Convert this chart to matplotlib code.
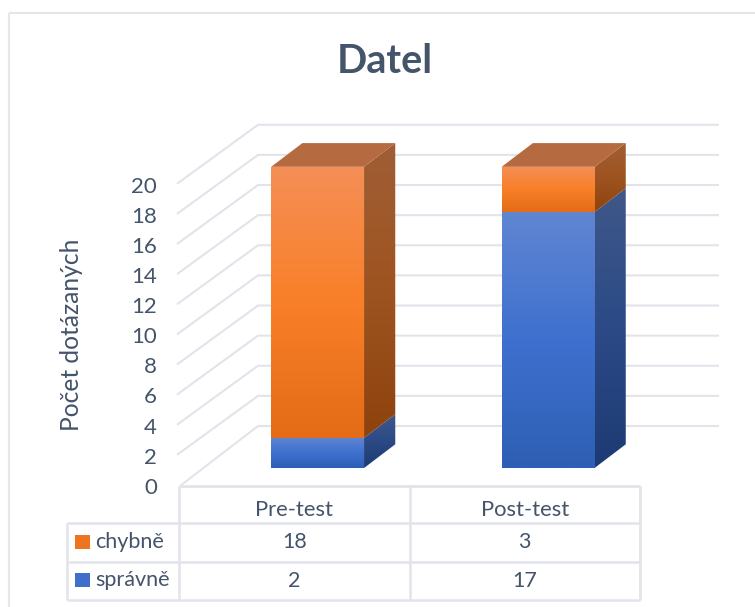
import numpy as np
import matplotlib
matplotlib.use("Agg")
import matplotlib.pyplot as plt
from matplotlib.colors import LinearSegmentedColormap
from matplotlib.patches import Polygon, Rectangle

title = "Datel"
ylabel = "Počet dotázaných"
categories = ["Pre-test", "Post-test"]
series_names = ["chybně", "správně"]
chybne = [18, 3]
spravne = [2, 17]
y_ticks = list(range(0, 21, 2))

FONT = "Lato"
TXT = "#44546A"
GRID = "#E1E4EA"

# simple oblique projection: x in categories, v in values, d in depth (0 front, 1 back)
X0, CAT_W, DX = 179.0, 230.5, 79.0
Y0, V_H, DY = 486.0, 15.06, 60.0
D0, D1 = 0.30, 0.695
BAR_L, BAR_R = 0.297, 0.70


def P(x, v, d):
    return (X0 + x * CAT_W + d * DX, Y0 - v * V_H - d * DY)


fig = plt.figure(figsize=(7.55, 6.07), dpi=100)
ax = fig.add_axes([0, 0, 1, 1])
ax.set_axis_off()


def line(xs, ys, lw=1.5, color=GRID, z=1):
    ax.plot(xs, ys, color=color, lw=lw, solid_capstyle="butt", zorder=z)


def grad_poly(pts, colors, z):
    pts = np.array(pts)
    cmap = LinearSegmentedColormap.from_list("g", colors)
    x0, x1, y0, y1 = pts[:, 0].min(), pts[:, 0].max(), pts[:, 1].min(), pts[:, 1].max()
    img = ax.imshow(np.linspace(0, 1, 256).reshape(-1, 1), cmap=cmap, aspect="auto",
                    extent=(x0, x1, y1, y0), zorder=z, interpolation="bilinear")
    poly = Polygon(pts, closed=True, transform=ax.transData, facecolor="none", edgecolor="none")
    ax.add_patch(poly)
    img.set_clip_path(poly)


# chart frame: only the left and top edges fall inside the picture
line([9, 9], [13, 607], lw=1.5, color="#E3E6EB", z=0)
line([9, 755], [13, 13], lw=1.5, color="#E3E6EB", z=0)

# walls
for v in y_ticks:
    a, b, c = P(0, v, 0), P(0, v, 1), P(2, v, 1)
    if v == 0:
        a = (a[0] + 1, a[1])
    else:
        a = (a[0] - 2, a[1] - 1)
    line([a[0], b[0], c[0]], [a[1], b[1], c[1]])
    ax.text(157, Y0 - v * V_H + 1.8, str(v), ha="right", va="center", fontsize=16,
            color=TXT, family=FONT)

ORANGE_F = ["#F58F57", "#F97F28", "#E46C17"]
ORANGE_S = ["#A05E35", "#9E5420", "#8E430E"]
BLUE_F = ["#6086D2", "#3F70CF", "#2E5FB4"]
BLUE_S = ["#3F5889", "#2B4A86", "#1D3A73"]
TOP_C = "#B66A40"


def bar(i, v0, v1, front, side, z):
    l, r = i + BAR_L, i + BAR_R
    grad_poly([P(l, v0, D0), P(r, v0, D0), P(r, v1, D0), P(l, v1, D0)], front, z + 1)
    grad_poly([P(r, v0, D0), P(r, v0, D1), P(r, v1, D1), P(r, v1, D0)], side, z)


for i in range(len(categories)):
    bar(i, 0, spravne[i], BLUE_F, BLUE_S, 3)
    bar(i, spravne[i], spravne[i] + chybne[i], ORANGE_F, ORANGE_S, 5)
    t = spravne[i] + chybne[i]
    l, r = i + BAR_L, i + BAR_R
    ax.add_patch(Polygon([P(l, t, D0), P(r, t, D0), P(r, t, D1), P(l, t, D1)],
                         closed=True, fc=TOP_C, ec="none", zorder=7))

# data table
T_L, T_M = 67, X0
rows = [Y0, 523, 562, 600]
T_R = X0 + 2 * CAT_W
line([X0, T_R], [rows[0], rows[0]], lw=2)
for y in rows[1:]:
    line([T_L, T_R], [y, y], lw=1.8)
line([T_L, T_L], [rows[1], rows[3]], lw=1.8)
line([X0, X0], [rows[0], rows[3]], lw=1.8)
line([X0 + CAT_W] * 2, [rows[0], rows[3]], lw=1.8)
line([T_R, T_R], [rows[0], rows[3]], lw=2)

for i, c in enumerate(categories):
    xc = X0 + (i + 0.5) * CAT_W
    ax.text(xc, 509.5, c, ha="center", va="center", fontsize=15.8, color=TXT, family=FONT)
    ax.text(xc, 542, str(chybne[i]), ha="center", va="center", fontsize=15.5, color=TXT, family=FONT)
    ax.text(xc, 581, str(spravne[i]), ha="center", va="center", fontsize=15.5, color=TXT, family=FONT)

ax.add_patch(Rectangle((75, 535), 15, 14, fc="#EE7420", ec="none", zorder=3))
ax.add_patch(Rectangle((75, 573), 15, 14, fc="#3F6FC8", ec="none", zorder=3))
ax.text(95, 541.5, series_names[0], ha="left", va="center", fontsize=15.6, color=TXT, family=FONT)
ax.text(95, 579.5, series_names[1], ha="left", va="center", fontsize=15.6, color=TXT, family=FONT)

ax.text(385, 61.5, title, ha="center", va="center", fontsize=28.5, fontweight="bold",
        color=TXT, family=FONT)
ax.text(71.5, 335, ylabel, ha="center", va="center", rotation=90, fontsize=17.7,
        color=TXT, family=FONT)

ax.set_xlim(0, 755)
ax.set_ylim(607, 0)
fig.savefig("out.png", dpi=100)
